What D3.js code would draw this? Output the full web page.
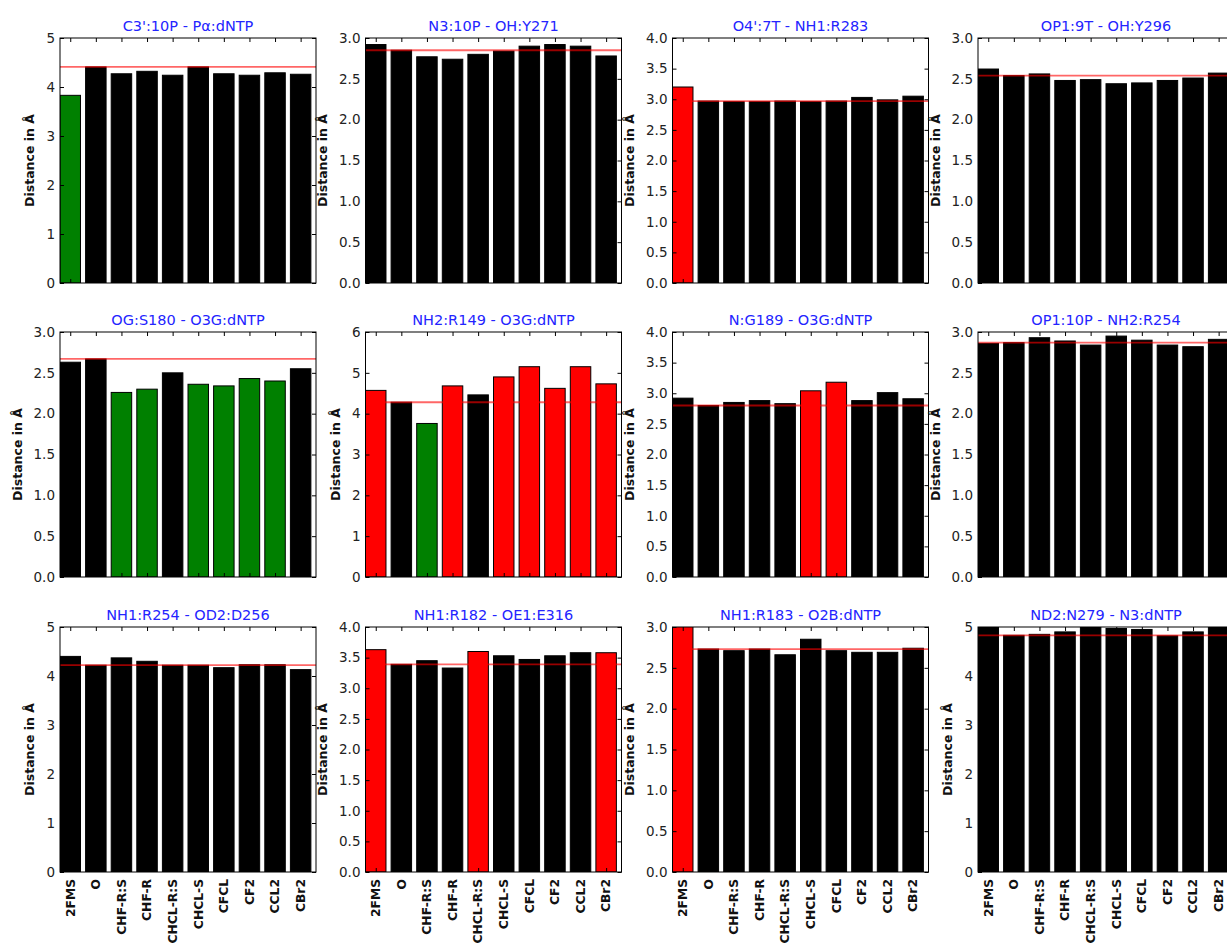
<!DOCTYPE html>
<html>
<head>
<meta charset="utf-8">
<script src="https://cdn.jsdelivr.net/npm/d3@7"></script>
<style>
  html, body { margin: 0; padding: 0; background: #fff; overflow: hidden; }
  svg { display: block; font-family: "DejaVu Sans", sans-serif; }
</style>
</head>
<body>
<svg id="chart" width="1227" height="944"></svg>
<script>
// ---------------- DATA ----------------
const categories = ["2FMS", "O", "CHF-R:S", "CHF-R", "CHCL-R:S", "CHCL-S", "CFCL", "CF2", "CCL2", "CBr2"];

const titles = [
  "C3':10P - Pα:dNTP", "N3:10P - OH:Y271", "O4':7T - NH1:R283", "OP1:9T - OH:Y296",
  "OG:S180 - O3G:dNTP", "NH2:R149 - O3G:dNTP", "N:G189 - O3G:dNTP", "OP1:10P - NH2:R254",
  "NH1:R254 - OD2:D256", "NH1:R182 - OE1:E316", "NH1:R183 - O2B:dNTP", "ND2:N279 - N3:dNTP"
];

const yMax  = [5, 3, 4, 3, 3, 6, 4, 3, 5, 4, 3, 5];
const yStep = [1, 0.5, 0.5, 0.5, 0.5, 1, 0.5, 0.5, 1, 0.5, 0.5, 1];

// distances (Å) per panel, in category order
const dist_C3_Pa    = [3.83, 4.41, 4.27, 4.32, 4.24, 4.41, 4.27, 4.24, 4.29, 4.26];
const dist_N3_Y271  = [2.92, 2.85, 2.77, 2.74, 2.80, 2.84, 2.90, 2.92, 2.90, 2.78];
const dist_O4_R283  = [3.20, 2.97, 2.96, 2.96, 2.97, 2.96, 2.97, 3.03, 2.99, 3.05];
const dist_OP1_Y296 = [2.62, 2.54, 2.56, 2.48, 2.49, 2.44, 2.45, 2.48, 2.51, 2.57];
const dist_OG_S180  = [2.63, 2.67, 2.26, 2.30, 2.50, 2.36, 2.34, 2.43, 2.40, 2.55];
const dist_NH2_R149 = [4.57, 4.28, 3.76, 4.68, 4.46, 4.90, 5.15, 4.62, 5.15, 4.73];
const dist_N_G189   = [2.92, 2.80, 2.85, 2.88, 2.83, 3.04, 3.18, 2.88, 3.01, 2.91];
const dist_OP1_R254 = [2.86, 2.87, 2.93, 2.89, 2.84, 2.95, 2.90, 2.84, 2.82, 2.91];
const dist_NH1_D256 = [4.40, 4.22, 4.37, 4.30, 4.22, 4.22, 4.17, 4.23, 4.23, 4.13];
const dist_NH1_E316 = [3.63, 3.39, 3.45, 3.33, 3.60, 3.53, 3.47, 3.53, 3.58, 3.58];
const dist_NH1_O2B  = [3.02, 2.73, 2.71, 2.73, 2.66, 2.85, 2.71, 2.69, 2.69, 2.74];
const dist_ND2_N3   = [5.02, 4.83, 4.85, 4.90, 5.02, 4.97, 4.95, 4.82, 4.90, 5.02];

// bar classes: k = unchanged, g = shorter, r = longer
const cls_C3_Pa    = ["g","k","k","k","k","k","k","k","k","k"];
const cls_N3_Y271  = ["k","k","k","k","k","k","k","k","k","k"];
const cls_O4_R283  = ["r","k","k","k","k","k","k","k","k","k"];
const cls_OP1_Y296 = ["k","k","k","k","k","k","k","k","k","k"];
const cls_OG_S180  = ["k","k","g","g","k","g","g","g","g","k"];
const cls_NH2_R149 = ["r","k","g","r","k","r","r","r","r","r"];
const cls_N_G189   = ["k","k","k","k","k","r","r","k","k","k"];
const cls_OP1_R254 = ["k","k","k","k","k","k","k","k","k","k"];
const cls_NH1_D256 = ["k","k","k","k","k","k","k","k","k","k"];
const cls_NH1_E316 = ["r","k","k","k","r","k","k","k","k","r"];
const cls_NH1_O2B  = ["r","k","k","k","k","k","k","k","k","k"];
const cls_ND2_N3   = ["k","k","k","k","k","k","k","k","k","k"];

const panelValues = [dist_C3_Pa, dist_N3_Y271, dist_O4_R283, dist_OP1_Y296,
                     dist_OG_S180, dist_NH2_R149, dist_N_G189, dist_OP1_R254,
                     dist_NH1_D256, dist_NH1_E316, dist_NH1_O2B, dist_ND2_N3];
const panelClasses = [cls_C3_Pa, cls_N3_Y271, cls_O4_R283, cls_OP1_Y296,
                      cls_OG_S180, cls_NH2_R149, cls_N_G189, cls_OP1_R254,
                      cls_NH1_D256, cls_NH1_E316, cls_NH1_O2B, cls_ND2_N3];
const referenceIndex = 1; // the "O" bar defines the red reference line

// ---------------- LAYOUT ----------------
const colLeft = [60, 365.5, 672.5, 978];
const rowTop = [38, 332, 627];
const W = 256, H = 245;
const colorMap = { k: "#000000", g: "#008000", r: "#ff0000" };

const svg = d3.select("#chart");

panelValues.forEach((vals, p) => {
  const row = Math.floor(p / 4), col = p % 4;
  const left = colLeft[col], top = rowTop[row];
  const g = svg.append("g").attr("transform", `translate(${left},${top})`);

  const clipId = "clip" + p;
  g.append("clipPath").attr("id", clipId)
    .append("rect").attr("x", 0).attr("y", 0).attr("width", W).attr("height", H);

  const x = d3.scaleLinear().domain([0, categories.length]).range([0, W]);
  const y = d3.scaleLinear().domain([0, yMax[p]]).range([H, 0]);
  const data = vals.map((v, i) => ({ cat: categories[i], v, c: panelClasses[p][i], i }));

  const plot = g.append("g").attr("clip-path", `url(#${clipId})`);
  plot.selectAll("rect.bar").data(data).enter().append("rect")
    .attr("class", "bar")
    .attr("x", d => x(d.i))
    .attr("width", x(0.8) - x(0))
    .attr("y", d => y(d.v))
    .attr("height", d => y(0) - y(d.v))
    .attr("fill", d => colorMap[d.c])
    .attr("stroke", "#000")
    .attr("stroke-width", 1);

  const ref = vals[referenceIndex];
  plot.append("line")
    .attr("x1", 0).attr("x2", W)
    .attr("y1", y(ref)).attr("y2", y(ref))
    .attr("stroke", "#ff0000").attr("stroke-width", 1.8).attr("stroke-opacity", 0.6);

  // y axis (left with labels, right ticks only)
  const ticks = d3.range(0, yMax[p] + 1e-9, yStep[p]);
  const fmt = yStep[p] < 1 ? d3.format(".1f") : d3.format("d");
  const yAxis = g.append("g").attr("class", "yaxis")
    .call(d3.axisLeft(y).tickValues(ticks).tickFormat(fmt).tickSize(-4).tickPadding(5));
  yAxis.select(".domain").remove();
  yAxis.selectAll("text").attr("font-size", 13.5).attr("fill", "#222")
    .attr("font-family", "DejaVu Sans");
  yAxis.selectAll("line").attr("stroke", "#000");

  const yAxisR = g.append("g").attr("transform", `translate(${W},0)`)
    .call(d3.axisRight(y).tickValues(ticks).tickFormat("").tickSize(-4));
  yAxisR.select(".domain").remove();

  // x ticks on top and bottom at bar centres
  const centres = categories.map((c, i) => i + 0.4);
  const xBottom = g.append("g").attr("transform", `translate(0,${H})`)
    .call(d3.axisBottom(x).tickValues(centres).tickFormat("").tickSize(-4));
  xBottom.select(".domain").remove();
  const xTop = g.append("g")
    .call(d3.axisTop(x).tickValues(centres).tickFormat("").tickSize(-4));
  xTop.select(".domain").remove();

  // frame
  g.append("rect").attr("x", 0).attr("y", 0).attr("width", W).attr("height", H)
    .attr("fill", "none").attr("stroke", "#000").attr("stroke-width", 1);

  // x labels on bottom row only
  if (row === 2) {
    g.selectAll("text.xl").data(categories).enter().append("text")
      .attr("class", "xl")
      .attr("transform", (d, i) => `translate(${x(i + 0.4)},${H + 7}) rotate(-90)`)
      .attr("text-anchor", "end")
      .attr("dy", "0.35em")
      .attr("font-size", 12.3)
      .attr("font-weight", "bold")
      .attr("fill", "#111")
      .text(d => d);
  }

  // title
  g.append("text")
    .attr("x", W / 2).attr("y", -7)
    .attr("text-anchor", "middle")
    .attr("font-size", 14.5)
    .attr("fill", "#2424ff")
    .text(titles[p]);

  // y label
  let maxW = 0;
  yAxis.selectAll("text").each(function () { maxW = Math.max(maxW, this.getComputedTextLength()); });
  const lx = -5 - maxW - 12;
  g.append("text")
    .attr("transform", `translate(${lx},${H / 2}) rotate(-90)`)
    .attr("text-anchor", "middle")
    .attr("font-size", 12.5)
    .attr("font-weight", "bold")
    .attr("fill", "#111")
    .text("Distance in Å");
});
</script>
</body>
</html>
